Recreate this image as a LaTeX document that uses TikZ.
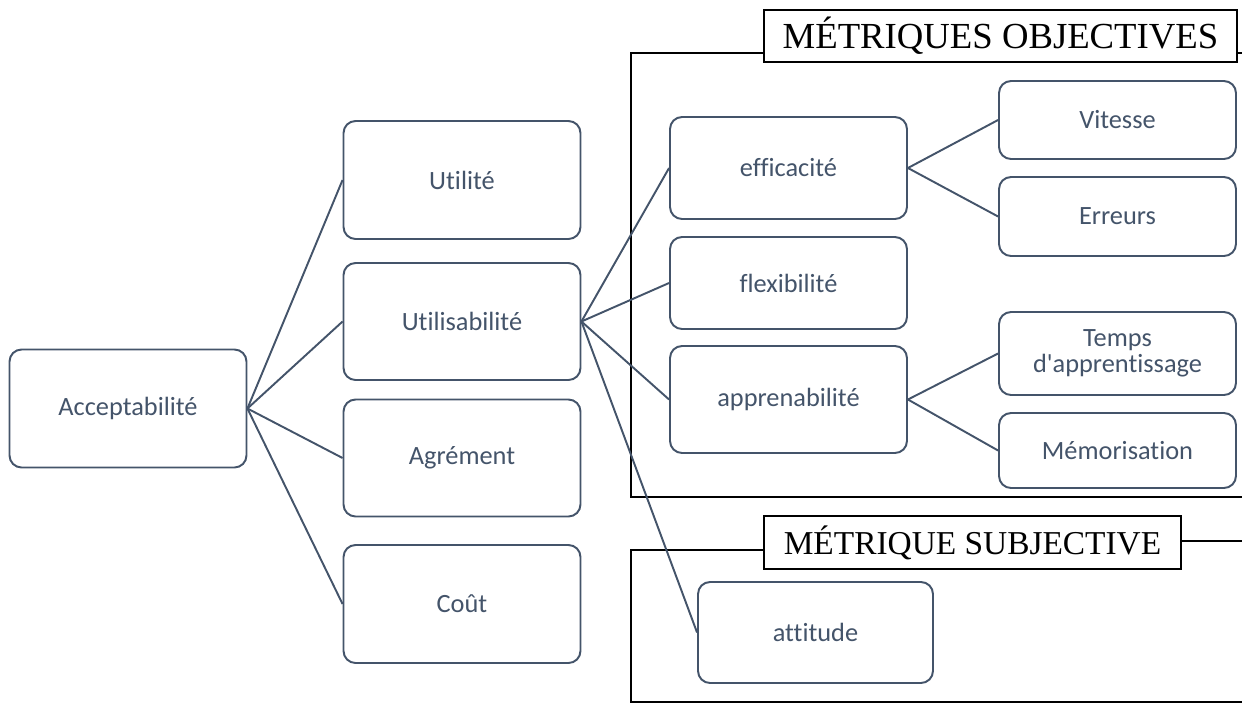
\documentclass[tikz,border=0pt]{standalone}
\usepackage{fontspec}
\newfontfamily\boitefont{Carlito}[Ligatures=NoCommon]
\newfontfamily\titrefont{Liberation Serif}
\usetikzlibrary{calc}
\definecolor{gristexte}{HTML}{44546A}
\tikzset{
  boite/.style={draw=gristexte, fill=white, text=gristexte, line width=1.1pt,
    rounded corners=0.24cm, minimum width=4.74cm, inner sep=0pt, align=center,
    font=\boitefont\fontsize{15}{14.5}\selectfont},
  lien/.style={draw=gristexte, line width=1.1pt},
  cadre/.style={draw=black, line width=1.3pt},
  titre/.style={cadre, fill=white, inner sep=0pt, font=\titrefont}
}
\begin{document}
\begin{tikzpicture}[x=0.02cm, y=-0.02cm]
% picture size
\useasboundingbox (0,0) rectangle (1242,704);
\clip (0,0) rectangle (1242,704);
%
% frames of the metrics
\draw[cadre] (631,53) rectangle (1260,497);
\draw[cadre] (764,550) -- (631,550) -- (631,702) -- (1260,702);
\draw[cadre] (1181,541) -- (1260,541);
\node[titre, minimum width=9.46cm, minimum height=1.04cm] (titreobj) at (1000.5,36) {\fontsize{20.9}{22}\selectfont MÉTRIQUES OBJECTIVES};
\node[titre, minimum width=8.34cm, minimum height=1.06cm] (titresubj) at (972.5,542.5) {\fontsize{19}{21}\selectfont MÉTRIQUE SUBJECTIVE};
%
% level 1
\node[boite, minimum height=2.36cm] (accept) at (128,408.5) {Acceptabilité};
% level 2
\node[boite, minimum height=2.36cm] (utilite) at (462,180) {Utilité};
\node[boite, minimum height=2.34cm] (utilisab) at (462,321.5) {Utilisabilité};
\node[boite, minimum height=2.34cm] (agrement) at (462,458) {Agrément};
\node[boite, minimum height=2.36cm] (cout) at (462,604) {Coût};
% level 3
\node[boite, minimum height=2.04cm] (effic) at (788.5,168) {efficacité};
\node[boite, minimum height=1.84cm] (flexi) at (788.5,283) {flexibilité};
\node[boite, minimum height=2.14cm] (appren) at (788.5,399.5) {apprenabilité};
\node[boite, minimum width=4.70cm, minimum height=2.02cm] (attitude) at (815.5,632.5) {attitude};
% level 4
\node[boite, minimum height=1.56cm] (vitesse) at (1117.5,120) {Vitesse};
\node[boite, minimum height=1.58cm] (erreurs) at (1117.5,216.5) {Erreurs};
\node[boite, minimum height=1.66cm] (temps) at (1117.5,353.5) {Temps\\d'apprentissage};
\node[boite, minimum height=1.50cm] (memo) at (1117.5,450.5) {Mémorisation};
%
% connect the boxes
\foreach \n in {utilite,utilisab,agrement,cout}
   \draw[lien] (accept.east) -- (\n.west);
\foreach \n in {effic,flexi,appren,attitude}
   \draw[lien] (utilisab.east) -- (\n.west);
\foreach \n in {vitesse,erreurs}
   \draw[lien] (effic.east) -- (\n.west);
\foreach \n in {temps,memo}
   \draw[lien] (appren.east) -- (\n.west);
\end{tikzpicture}
\end{document}
